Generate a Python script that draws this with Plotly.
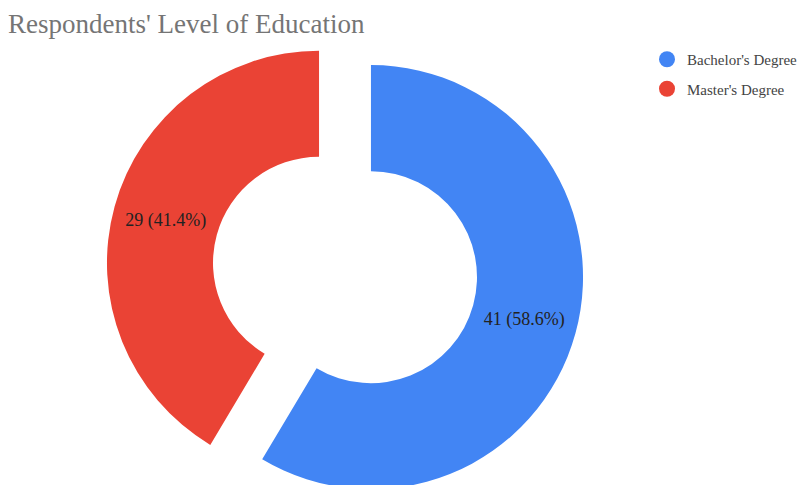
import plotly.graph_objects as go

# data
labels = ["Bachelor's Degree", "Master's Degree"]
counts = [41, 29]
colors = ["#4285F4", "#EA4335"]

# page body has an 8px margin, so the figure is drawn 8px narrower
W = 801
TOP = 23
H = TOP + 478  # taller than the window: the reference donut is cut at the bottom
serif = "Liberation Serif"
cx = 337

fig = go.Figure()
fig.add_trace(go.Pie(
    labels=labels, values=counts, sort=False, direction="clockwise", rotation=0,
    hole=0.5, pull=[0.127, 0.127],
    marker=dict(colors=colors),
    texttemplate="%{value} (%{percent:.1%})", textposition="inside",
    insidetextorientation="horizontal",
    textfont=dict(family=serif, size=18, color="#222222"),
    showlegend=False, hoverinfo="label+value+percent",
    domain=dict(x=[(cx - 239) / W, (cx + 239) / W], y=[0, 1]),
))

# circle swatches for the legend
for i, (lab, col) in enumerate(zip(labels, colors)):
    fig.add_trace(go.Scatter(
        x=[None], y=[None], mode="markers", name=lab, legendgroup=str(i),
        marker=dict(color=col, size=16, symbol="circle"),
    ))

fig.update_layout(
    width=W, height=H,
    margin=dict(l=0, r=0, t=TOP, b=0),
    paper_bgcolor="white", plot_bgcolor="white",
    title=dict(text="Respondents' Level of Education", x=0, xanchor="left",
               y=1 - 16 / H, yanchor="middle", yref="container",
               font=dict(family=serif, size=27, color="#757575")),
    legend=dict(x=639 / W, xanchor="left", y=1 - (35 - TOP) / (H - TOP), yanchor="top",
                font=dict(family=serif, size=15, color="#444444"),
                tracegroupgap=7, itemclick=False),
    xaxis=dict(visible=False), yaxis=dict(visible=False),
)

fig.write_html("out.html")
